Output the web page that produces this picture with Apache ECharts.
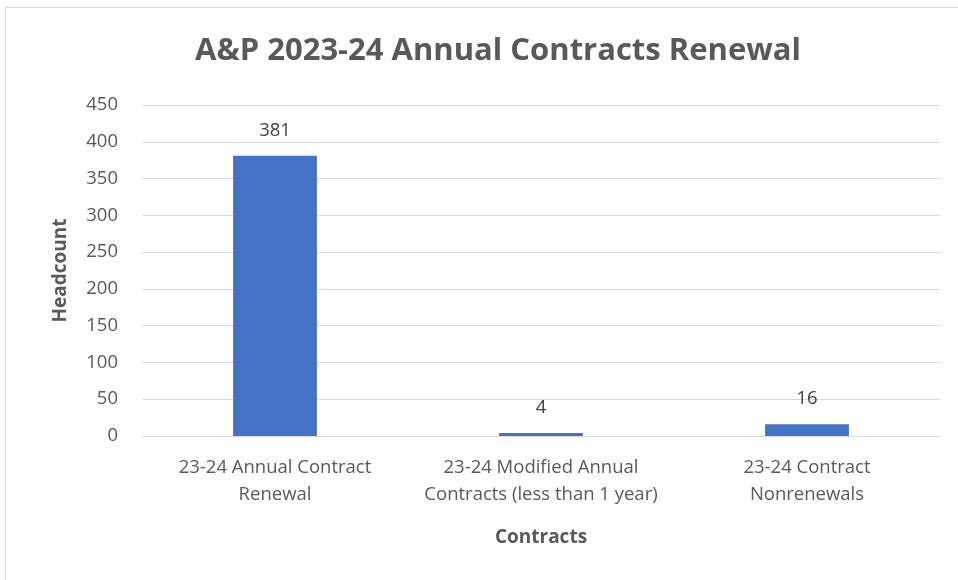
<!DOCTYPE html>
<html><head><meta charset="utf-8">
<script src="https://cdn.jsdelivr.net/npm/echarts@6/dist/echarts.min.js"></script>
<style>html,body{margin:0;padding:0;background:#fff}#c{width:958px;height:580px}
#frame{position:absolute;left:5px;top:7px;width:960px;height:580px;border-left:1px solid #d9d9d9;border-top:1px solid #d9d9d9;pointer-events:none}</style>
</head><body><div id="c"></div><div id="frame"></div>
<script>
const categories = ["23-24 Annual Contract\nRenewal", "23-24 Modified Annual\nContracts (less than 1 year)", "23-24 Contract\nNonrenewals"];
const headcount = [381, 4, 16];
const yTicks = {min: 0, max: 450, interval: 50};
const font = "'Open Sans', 'Noto Sans', sans-serif";
const chart = echarts.init(document.getElementById('c'));
chart.setOption({
  animation: false,
  title: {text: "A&P 2023-24 Annual Contracts Renewal", left: 493, top: 31, textAlign: 'center',
    textStyle: {fontFamily: font, fontSize: 31, fontWeight: 'bold', color: '#595959'}},
  grid: {left: 142, right: 18, top: 105, bottom: 144},
  xAxis: {type: 'category', data: categories, name: 'Contracts', nameLocation: 'middle', nameGap: 92,
    nameTextStyle: {fontFamily: font, fontSize: 19, fontWeight: 'bold', color: '#595959'},
    axisLine: {lineStyle: {color: '#d9d9d9'}}, axisTick: {show: false},
    axisLabel: {fontFamily: font, fontSize: 18.5, color: '#595959', margin: 18, lineHeight: 27, interval: 0}},
  yAxis: {type: 'value', min: yTicks.min, max: yTicks.max, interval: yTicks.interval,
    name: 'Headcount', nameLocation: 'middle', nameGap: 72, nameRotate: 90,
    nameTextStyle: {fontFamily: font, fontSize: 19, fontWeight: 'bold', color: '#595959'},
    axisLine: {show: false}, axisTick: {show: false},
    axisLabel: {fontFamily: font, fontSize: 18.5, color: '#595959', margin: 24},
    splitLine: {lineStyle: {color: '#d9d9d9', width: 1}}},
  series: [{type: 'bar', data: headcount, barWidth: '31.5%', itemStyle: {color: '#4472c4'},
    label: {show: true, position: 'top', distance: 16, fontFamily: font, fontSize: 18.5, color: '#404040'}}]
});
</script></body></html>
